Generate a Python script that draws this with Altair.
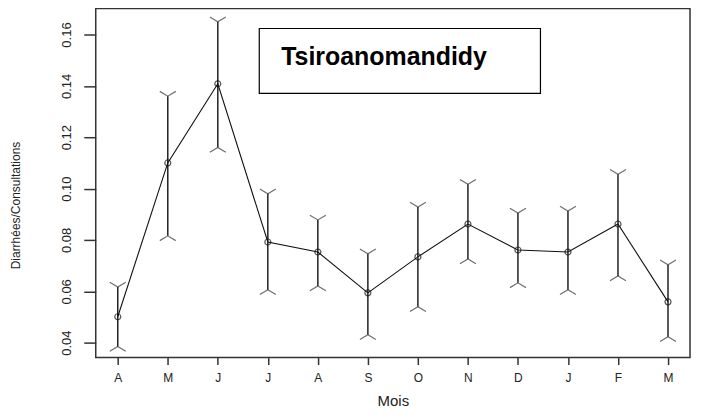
import altair as alt
import pandas as pd

# ---- data ----
months = ["A", "M", "J", "J", "A", "S", "O", "N", "D", "J", "F", "M"]
mean_vals = [0.0501, 0.1100, 0.1408, 0.0792, 0.0753, 0.0594, 0.0734, 0.0862, 0.0761, 0.0753, 0.0862, 0.0559]
lower_vals = [0.0385, 0.0816, 0.1160, 0.0606, 0.0621, 0.0431, 0.0540, 0.0726, 0.0633, 0.0606, 0.0660, 0.0423]
upper_vals = [0.0617, 0.1360, 0.1650, 0.0980, 0.0878, 0.0746, 0.0928, 0.1017, 0.0905, 0.0913, 0.1056, 0.0703]
y_ticks = [0.04, 0.06, 0.08, 0.10, 0.12, 0.14, 0.16]
site_name = "Tsiroanomandidy"

df = pd.DataFrame({
    "idx": list(range(1, len(months) + 1)),
    "mois": months,
    "mean": mean_vals,
    "lower": lower_vals,
    "upper": upper_vals,
})

font = "Liberation Sans"
label_expr = "[" + ",".join("'%s'" % m for m in months) + "][datum.value - 1]"

x_enc = alt.X(
    "idx:Q",
    scale=alt.Scale(domain=[0.56, 12.44], nice=False, zero=False),
    axis=alt.Axis(
        values=list(range(1, len(months) + 1)),
        labelExpr=label_expr,
        title="Mois",
        grid=False,
        domain=False,
        tickSize=7,
        tickColor="#333",
        tickWidth=1.5,
        labelPadding=8,
        labelFont=font,
        labelFontSize=12,
        labelColor="#222",
        titleFont=font,
        titleFontSize=15,
        titleFontWeight="normal",
        titleColor="#222",
        titlePadding=10,
    ),
)
y_scale = alt.Scale(domain=[0.0342, 0.1701], nice=False, zero=False)
y_axis = alt.Axis(
    values=y_ticks,
    format=".2f",
    title="Diarrhées/Consultations",
    grid=False,
    domain=False,
    tickSize=12,
    tickColor="#333",
    tickWidth=1.5,
    labelAngle=270,
    labelAlign="center",
    labelBaseline="bottom",
    labelPadding=10,
    labelFont=font,
    labelFontSize=13,
    labelColor="#222",
    titleFont=font,
    titleFontSize=12,
    titleFontWeight="normal",
    titleColor="#222",
    titleAngle=270,
    titleAlign="center",
    titleBaseline="middle",
    titleX=-80,
    titleY=197,
)

base = alt.Chart(df)

bars = base.mark_rule(color="#222", strokeWidth=1.5).encode(
    x=x_enc,
    y=alt.Y("lower:Q", scale=y_scale, axis=y_axis),
    y2="upper:Q",
)
top_caps = base.mark_point(
    shape="M -1 -0.6 L 0 0 L 1 -0.6", filled=False, color="#333", size=256, strokeWidth=1.2
).encode(x="idx:Q", y="upper:Q")
bot_caps = base.mark_point(
    shape="M -1 0.6 L 0 0 L 1 0.6", filled=False, color="#333", size=256, strokeWidth=1.2
).encode(x="idx:Q", y="lower:Q")
line = base.mark_line(color="#111", strokeWidth=1.1).encode(x="idx:Q", y="mean:Q")
pts = base.mark_point(shape="circle", filled=False, color="#111", size=36, strokeWidth=1.2).encode(
    x="idx:Q", y="mean:Q"
)

box_df = pd.DataFrame({"label": [site_name]})
box = alt.Chart(box_df).mark_rect(fill="white", stroke="black", strokeWidth=1.2).encode(
    x=alt.value(164), x2=alt.value(446), y=alt.value(20), y2=alt.value(85)
)
box_text = alt.Chart(box_df).mark_text(
    font=font, fontWeight="bold", fontSize=25, align="left", baseline="alphabetic", color="black"
).encode(text="label:N", x=alt.value(186), y=alt.value(57))

chart = alt.layer(bars, top_caps, bot_caps, line, pts, box, box_text).properties(
    width=596,
    height=350,
    autosize=alt.AutoSizeParams(type="none"),
    padding={"left": 88, "top": 0, "right": 4, "bottom": 52},
    background="white",
).configure_view(stroke="#333", strokeWidth=1.5)

chart.save("out.html", embed_options={"renderer": "svg", "actions": False})
